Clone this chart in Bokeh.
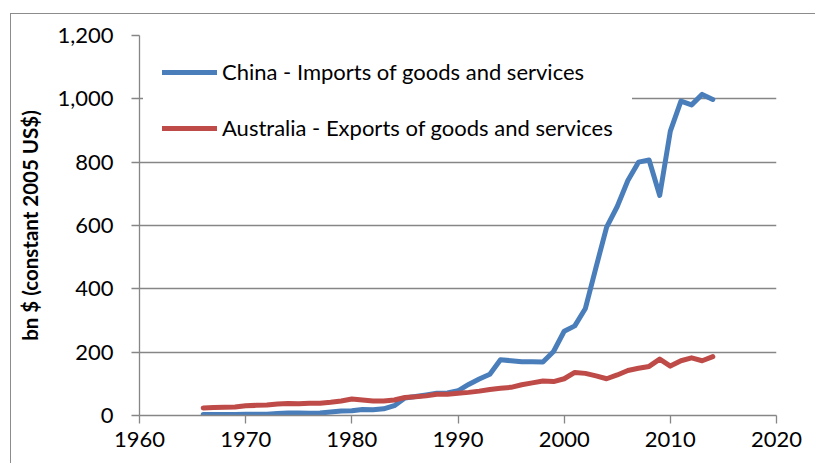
from bokeh.plotting import figure
from bokeh.models import Range1d, NumeralTickFormatter, FixedTicker, Legend, LegendItem
from bokeh.embed import file_html
from bokeh.resources import INLINE

years = list(range(1966, 2015))
china_imports = [3, 3, 3, 3, 4, 4, 4, 6, 8, 8,
                 7, 8, 11, 14, 15, 19, 18, 21, 31, 55,
                 60, 65, 70, 71, 78, 98, 115, 130, 176, 173,
                 170, 170, 169, 202, 266, 283, 338, 468, 595, 660,
                 742, 800, 807, 695, 898, 993, 981, 1014, 998]
australia_exports = [24, 25, 26, 27, 31, 32, 33, 36, 38, 37,
                     39, 39, 42, 46, 52, 49, 46, 46, 49, 57,
                     59, 62, 67, 67, 70, 73, 77, 82, 86, 89,
                     97, 103, 109, 107, 116, 136, 133, 125, 116, 128,
                     142, 149, 155, 178, 156, 173, 182, 173, 186]
x_ticks = [1960, 1970, 1980, 1990, 2000, 2010, 2020]
y_ticks = [0, 200, 400, 600, 800, 1000, 1200]
series_names = ["China - Imports of goods and services",
                "Australia - Exports of goods and services"]
y_title = "bn $ (constant 2005 US$)"

FONT = "Lato"
GRAY = "#868686"

p = figure(width=805, height=450, output_backend="svg", toolbar_location=None,
           x_range=Range1d(1960, 2020), y_range=Range1d(0, 1200),
           min_border_left=128, min_border_right=40, min_border_top=21, min_border_bottom=49,
           outline_line_color=None, background_fill_color="white", border_fill_color="white")
p.margin = (13, 0, 0, 10)
p.styles = {"border-top": "1px solid #8c8c8c", "border-left": "1px solid #8c8c8c"}

r1 = p.line(years, china_imports, line_width=5, line_color="#4A7EBB",
            line_join="round", line_cap="round")
r2 = p.line(years, australia_exports, line_width=5, line_color="#BE4B48",
            line_join="round", line_cap="round")

p.xaxis.ticker = FixedTicker(ticks=x_ticks)
p.yaxis.ticker = FixedTicker(ticks=y_ticks)
p.yaxis.formatter = NumeralTickFormatter(format="0,0")
for ax in (p.xaxis[0], p.yaxis[0]):
    ax.axis_line_color = GRAY
    ax.axis_line_width = 1.3
    ax.major_tick_line_color = GRAY
    ax.major_tick_line_width = 1.3
    ax.major_tick_in = 0
    ax.major_tick_out = 8
    ax.minor_tick_line_color = None
    ax.major_label_text_font = FONT
    ax.major_label_text_font_size = "22px"
    ax.major_label_text_color = "black"
p.xaxis.major_label_standoff = 8
p.yaxis.major_label_standoff = 18
p.yaxis.axis_label = y_title
p.yaxis.axis_label_text_font = FONT
p.yaxis.axis_label_text_font_style = "bold"
p.yaxis.axis_label_text_font_size = "20.5px"
p.yaxis.axis_label_text_color = "black"
p.yaxis.axis_label_standoff = 12

p.xgrid.grid_line_color = None
p.ygrid.grid_line_color = GRAY
p.ygrid.grid_line_width = 1.3

legend = Legend(items=[LegendItem(label=series_names[0], renderers=[r1]),
                       LegendItem(label=series_names[1], renderers=[r2])],
                location="top_left", margin=4, padding=19, spacing=29,
                glyph_width=55, glyph_height=22, label_height=22, label_standoff=5,
                label_text_font=FONT, label_text_font_size="22px",
                label_text_color="black",
                background_fill_color="white", background_fill_alpha=1.0,
                border_line_alpha=0)
p.add_layout(legend)

open("out.html", "w").write(file_html(p, INLINE))
